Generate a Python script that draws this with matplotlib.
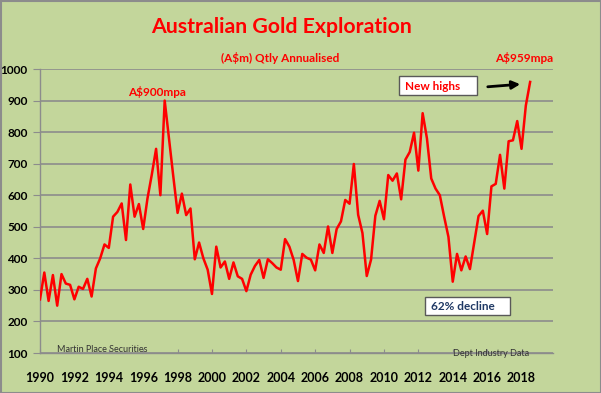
import numpy as np
import matplotlib.pyplot as plt
from matplotlib import patches

# quarterly gold exploration spend, A$m annualised, from 1990 Q1
start_year = 1990.0
spend = [270, 355, 265, 347, 250, 350, 320, 316, 270, 310,
         303, 335, 279, 368, 400, 444, 433, 532, 547, 574,
         458, 634, 532, 572, 493, 590, 665, 747, 600, 900,
         780, 660, 544, 605, 537, 558, 397, 450, 400, 364,
         287, 437, 371, 390, 335, 387, 343, 335, 296, 348,
         376, 395, 338, 397, 385, 371, 364, 461, 437, 395,
         328, 414, 402, 396, 362, 444, 417, 501, 417, 493,
         517, 585, 573, 699, 538, 480, 344, 396, 535, 582,
         524, 664, 646, 669, 587, 713, 737, 798, 678, 860,
         780, 653, 621, 600, 532, 468, 326, 414, 362, 406,
         366, 450, 534, 551, 477, 628, 636, 728, 621, 771,
         774, 835, 747, 884, 959]
year_ticks = list(range(1990, 2019, 2))
value_ticks = list(range(100, 1001, 100))

quarters = start_year + 0.25 * np.arange(len(spend))

W, H = 601, 393
bg = "#c3d69b"
plt.rcParams["font.family"] = ["Lato", "DejaVu Sans"]

fig = plt.figure(figsize=(W / 100, H / 100), dpi=100, facecolor=bg)
ax = fig.add_axes([40 / W, 1 - 353 / H, 513 / W, 284 / H])
ax.set_facecolor(bg)

ax.plot(quarters, spend, color="#ff0000", linewidth=1.8, zorder=3)

ax.set_xlim(1990, 2019.83)
ax.set_ylim(100, 1000)
ax.set_xticks(year_ticks)
ax.set_yticks(value_ticks)
ax.set_xticklabels([str(y) for y in year_ticks], fontsize=9, fontweight="bold")
ax.set_yticklabels([str(v) for v in value_ticks], fontsize=8.5, fontweight="bold")
ax.tick_params(axis="x", direction="in", length=3, color="#8c8c8c", pad=14)
ax.tick_params(axis="y", direction="out", length=5, color="#8c8c8c", pad=4)
ax.grid(axis="y", color="#8c8c8c", linewidth=1.2)
ax.set_axisbelow(True)
for s in ["top", "right"]:
    ax.spines[s].set_visible(False)
for s in ["left", "bottom"]:
    ax.spines[s].set_color("#8c8c8c")
    ax.spines[s].set_linewidth(1.0)

# titles and notes (pixel positions converted to figure coords)
def fx(px):
    return px / W

def fy(py):
    return 1 - py / H

fig.text(fx(282), fy(27), "Australian Gold Exploration", color="#ff0000",
         fontsize=15.3, fontweight="bold", ha="center", va="center")
fig.text(fx(280), fy(58), "(A$m) Qtly Annualised", color="#ff0000",
         fontsize=8.5, fontweight="bold", ha="center", va="center")
fig.text(fx(524), fy(58), "A$959mpa", color="#ff0000",
         fontsize=8.5, fontweight="bold", ha="center", va="center")
fig.text(fx(157), fy(92), "A$900mpa", color="#ff0000",
         fontsize=8.5, fontweight="bold", ha="center", va="center")
fig.text(fx(57), fy(350), "Martin Place Securities", color="#333333",
         fontsize=6.5, ha="left", va="center")
fig.text(fx(453), fy(354), "Dept Industry Data", color="#333333",
         fontsize=6.5, ha="left", va="center")

# boxes
fig.patches.append(patches.Rectangle((fx(399), fy(95)), 78 / W, 19 / H,
                                     transform=fig.transFigure, facecolor="white",
                                     edgecolor="#595959", linewidth=1.0))
fig.text(fx(405), fy(86), "New highs", color="#ff0000",
         fontsize=8.5, fontweight="bold", ha="left", va="center")
fig.patches.append(patches.Rectangle((fx(425), fy(315)), 85 / W, 18 / H,
                                     transform=fig.transFigure, facecolor="white",
                                     edgecolor="#595959", linewidth=1.0))
fig.text(fx(431), fy(306), "62% decline", color="#1f3864",
         fontsize=8.5, fontweight="bold", ha="left", va="center")

fig.patches.append(patches.FancyArrowPatch((fx(485), fy(87)), (fx(523), fy(84)),
                                           transform=fig.transFigure,
                                           arrowstyle="-|>", mutation_scale=12,
                                           color="black", linewidth=2))

# outer frame
fig.patches.append(patches.Rectangle((0.5 / W, 0.5 / H), 1 - 1 / W, 1 - 1 / H,
                                     transform=fig.transFigure, fill=False,
                                     edgecolor="#8c8c8c", linewidth=1.5))

fig.savefig("out.png", dpi=100, facecolor=bg)
